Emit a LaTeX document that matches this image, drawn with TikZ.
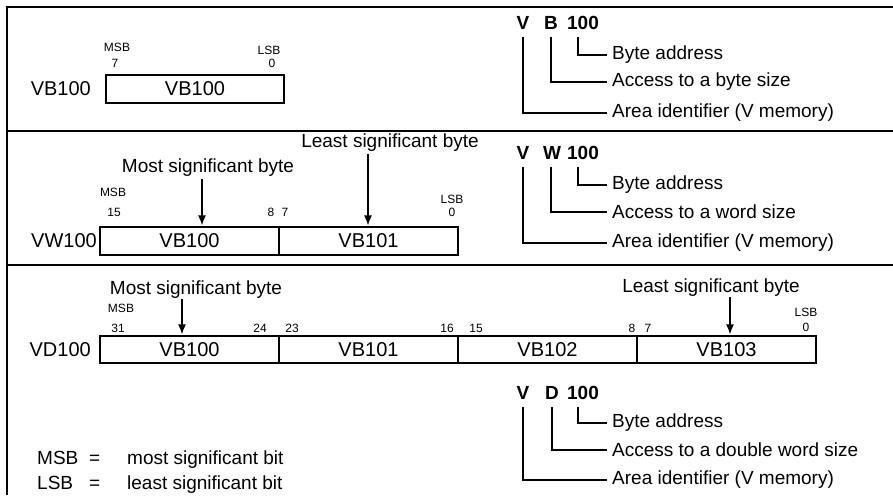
\documentclass[tikz,border=0pt]{standalone}
\usepackage{fontspec}
\setmainfont{Liberation Sans}
\usetikzlibrary{arrows.meta,positioning,calc}

\begin{document}
\begin{tikzpicture}[x=1pt,y=-1pt,
  cell/.style={draw,line width=1.2pt,minimum width=179pt,minimum height=#1,inner sep=0pt,
    font=\fontsize{20}{22}\selectfont},
  cell/.default=28pt,
  reg/.style={anchor=east,inner sep=0pt,font=\fontsize{20}{22}\selectfont},
  bit/.style={inner sep=0pt,font=\fontsize{12}{13}\selectfont},
  note/.style={inner sep=0pt,font=\fontsize{19}{21}\selectfont},
  desc/.style={anchor=west,inner sep=0pt,font=\fontsize{19}{21}\selectfont},
  key/.style={anchor=base west,inner sep=0pt,font=\fontsize{19}{21}\selectfont},
  head/.style={inner sep=0pt,font=\fontsize{19}{21}\selectfont\bfseries},
  tree/.style={line width=1.1pt,shorten <=7pt},
  frame/.style={line width=1.5pt},
  bytearrow/.style={line width=1.4pt,shorten >=1pt,-{Latex[length=10pt,width=8pt]}},
]
  \useasboundingbox (0,0) rectangle (893,495);
  \draw[frame] (7,495) -- (7,7) -- (893,7);
  \draw[frame] (7,131) -- (893,131);
  \draw[frame] (7,265) -- (893,265);

  % byte
  \node[reg] (rb) at (91,89) {VB100};
  \node[cell,minimum width=178pt] (b1) at (195,89) {VB100};
  \node[bit] (b1msb) at (117,47) {MSB};
  \node[bit] (b1hi) at (115,63) {7};
  \node[bit] (b1lsb) at (269,50) {LSB};
  \node[bit] (b1lo) at (272,63) {0};

  \node[head] (v1) at (523,23) {V};
  \node[head] (s1) at (551,23) {B};
  \node[head] (n1) at (583,23) {100};
  \node[desc] (t1a) at (612,55) {Byte address};
  \node[desc] (t1b) at (612,82) {Access to a byte size};
  \node[desc] (t1c) at (612,113) {Area identifier (V memory)};
  \draw[tree] ([xshift=-5pt]n1.south) |- ([xshift=-5pt]t1a.west);
  \draw[tree] (s1.south) |- ([xshift=-5pt]t1b.west);
  \draw[tree] (v1.south) |- ([xshift=-5pt]t1c.west);

  % word
  \node[reg] (rw) at (97,241) {VW100};
  \node[cell] (w1) at (189.5,241) {VB100};
  \node[cell] (w2) at (368.5,241) {VB101};
  \node[bit] (w1msb) at (113,192) {MSB};
  \node[bit] (w1hi) at (114,212) {15};
  \node[bit] (w1lo) at (271,212) {8};
  \node[bit] (w2hi) at (285,212) {7};
  \node[bit] (w2lsb) at (452,199) {LSB};
  \node[bit] (w2lo) at (452,212) {0};
  \node[note] (wms) at (208,168) {Most significant byte};
  \node[note] (wls) at (390,143) {Least significant byte};
  \draw[bytearrow,shorten <=2pt] ([xshift=-6pt]wms.south) -- ([xshift=-6pt]wms.south |- w1.north);
  \draw[bytearrow,shorten <=2pt] ([xshift=-22pt]wls.south) -- ([xshift=-22pt]wls.south |- w2.north);

  \node[head] (v2) at (523,153) {V};
  \node[head] (s2) at (552,153) {W};
  \node[head] (n2) at (583,153) {100};
  \node[desc] (t2a) at (612,185) {Byte address};
  \node[desc] (t2b) at (612,212) {Access to a word size};
  \node[desc] (t2c) at (612,243) {Area identifier (V memory)};
  \draw[tree] ([xshift=-5pt]n2.south) |- ([xshift=-5pt]t2a.west);
  \draw[tree] ([xshift=-1pt]s2.south) |- ([xshift=-5pt]t2b.west);
  \draw[tree] (v2.south) |- ([xshift=-5pt]t2c.west);

  % double word
  \node[reg] (rd) at (91,350) {VD100};
  \node[cell=27pt] (d1) at (189.5,349.5) {VB100};
  \node[cell=27pt] (d2) at (368.5,349.5) {VB101};
  \node[cell=27pt] (d3) at (547.5,349.5) {VB102};
  \node[cell=27pt] (d4) at (726.5,349.5) {VB103};
  \node[bit] (d1msb) at (121,308) {MSB};
  \node[bit] (d1hi) at (118,328) {31};
  \node[bit] (d1lo) at (260,328) {24};
  \node[bit] (d2hi) at (292,328) {23};
  \node[bit] (d2lo) at (447,328) {16};
  \node[bit] (d3hi) at (476,328) {15};
  \node[bit] (d3lo) at (632,328) {8};
  \node[bit] (d4hi) at (648,328) {7};
  \node[bit] (d4lsb) at (806,312) {LSB};
  \node[bit] (d4lo) at (806,327) {0};
  \node[note] (dms) at (196,290) {Most significant byte};
  \node[note] (dls) at (711,288) {Least significant byte};
  \draw[bytearrow] ([xshift=-14pt]dms.south) -- ([xshift=-14pt]dms.south |- d1.north);
  \draw[bytearrow] ([xshift=19pt]dls.south) -- ([xshift=19pt]dls.south |- d4.north);

  \node[head] (v3) at (523,393) {V};
  \node[head] (s3) at (552,393) {D};
  \node[head] (n3) at (583,393) {100};
  \node[desc] (t3a) at (612,423) {Byte address};
  \node[desc] (t3b) at (612,450) {Access to a double word size};
  \node[desc] (t3c) at (612,480) {Area identifier (V memory)};
  \draw[tree] ([xshift=-5pt]n3.south) |- ([xshift=-5pt]t3a.west);
  \draw[tree] (s3.south) |- ([xshift=-5pt]t3b.west);
  \draw[tree] (v3.south) |- ([xshift=-5pt]t3c.west);

  % legend
  \node[key] (lg1) at (37,464) {MSB};
  \node[key] (eq1) at (89,464) {=};
  \node[key] (tx1) at (127,464) {most significant bit};
  \node[key] (lg2) at (37,489) {LSB};
  \node[key] (eq2) at (89,489) {=};
  \node[key] (tx2) at (127,489) {least significant bit};
\end{tikzpicture}
\end{document}
